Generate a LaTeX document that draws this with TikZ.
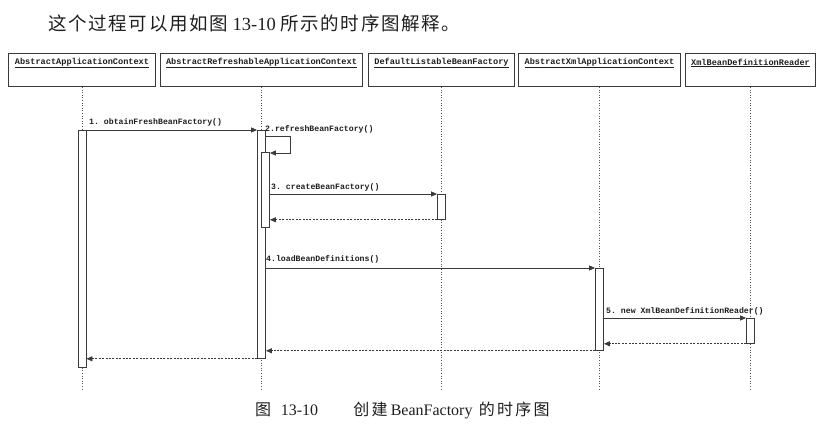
\documentclass[tikz,border=0pt]{standalone}
\usepackage{fontspec}
\setmainfont{Liberation Serif}
\setmonofont{Liberation Mono}
\newfontfamily\cjk{Noto Sans CJK SC}
\newfontfamily\cjkwide{Noto Sans CJK SC}[LetterSpace=9]
\newfontfamily\cjkcap{Noto Sans CJK SC}[LetterSpace=14]
\usetikzlibrary{arrows.meta}

\definecolor{linec}{HTML}{3A3A3A}
\definecolor{lifec}{HTML}{555555}
\definecolor{inkc}{HTML}{1E1E1E}

\tikzset{
  headbox/.style={draw=linec, line width=1pt, minimum height=33pt, inner sep=0pt, anchor=north west},
  headtext/.style={font=\ttfamily\bfseries\fontsize{8.6}{10}\selectfont, text=inkc, inner sep=0pt},
  lifeline/.style={draw=lifec, line width=0.8pt, dash pattern=on 1pt off 1.6pt},
  actbar/.style={draw=linec, line width=0.8pt, fill=white, minimum width=8pt, inner sep=0pt, anchor=north},
  msg/.style={draw=linec, line width=0.7pt, -{Triangle[length=6pt,width=5pt]}},
  reply/.style={msg, dash pattern=on 2pt off 1.4pt},
  msglabel/.style={font=\ttfamily\bfseries\fontsize{8.2}{10}\selectfont, text=inkc, inner sep=0pt, anchor=west}
}

\begin{document}
\begin{tikzpicture}[x=1pt, y=-1pt]
  \useasboundingbox (0,0) rectangle (839,435);

  % intro sentence and caption
  \node[anchor=west, inner sep=0pt, text=inkc, font=\fontsize{18.5}{20}\selectfont] (intro) at (48,23)
    {{\cjkwide 这个过程可以用如图} 13-10 {\cjkwide 所示的时序图解释。}};
  \node[anchor=west, inner sep=0pt, text=inkc, font=\fontsize{16}{18}\selectfont] (caption) at (255,410)
    {{\cjk 图}\hspace{0.6em}13-10\hspace{2.2em}{\cjkcap 创建}\hspace{0.2em}BeanFactory\hspace{0.4em}{\cjkcap 的时序图}};

  % participant boxes
  \node[headbox, minimum width=147pt] (h1) at (8,53) {};
  \node[headbox, minimum width=202pt] (h2) at (160,53) {};
  \node[headbox, minimum width=146pt] (h3) at (368,53) {};
  \node[headbox, minimum width=162pt] (h4) at (518,53) {};
  \node[headbox, minimum width=130pt] (h5) at (685,53) {};

  \node[headtext] (t1) at ([yshift=-10pt]h1.north) {\underline{AbstractApplicationContext}};
  \node[headtext] (t2) at ([yshift=-10pt]h2.north) {\underline{AbstractRefreshableApplicationContext}};
  \node[headtext] (t3) at ([yshift=-10pt]h3.north) {\underline{DefaultListableBeanFactory}};
  \node[headtext] (t4) at ([yshift=-10pt]h4.north) {\underline{AbstractXmlApplicationContext}};
  \node[headtext] (t5) at ([yshift=-10pt]h5.north) {\underline{XmlBeanDefinitionReader}};

  % lifeline ends
  \coordinate (bottom) at (0,391);
  \foreach \i in {1,...,5} {
    \draw[lifeline] (h\i.south) -- (h\i.south |- bottom);
  }

  % activation bars
  \node[actbar, minimum height=237pt] (b1) at (h1.south |- 0,130) {};
  \node[actbar, minimum height=228pt] (b2) at (h2.south |- 0,130) {};
  \node[actbar, minimum height=75pt]  (b2i) at ([xshift=4pt]h2.south |- 0,152) {};
  \node[actbar, minimum height=25pt]  (b3) at (h3.south |- 0,194) {};
  \node[actbar, minimum height=82pt]  (b4) at (h4.south |- 0,268) {};
  \node[actbar, minimum height=25pt]  (b5) at (h5.south |- 0,318) {};

  % 1. obtainFreshBeanFactory()
  \draw[msg] (b1.north east) -- (b2.north west);
  \node[msglabel] (l1) at (89,122) {1. obtainFreshBeanFactory()};

  % 2. refreshBeanFactory() : self call
  \coordinate (loopTop) at (0,136);
  \coordinate (loopBot) at (0,153);
  \coordinate (loopX) at (290,0);
  \draw[msg] (b2.east |- loopTop) -- (loopX |- loopTop) -- (loopX |- loopBot) -- (b2i.east |- loopBot);
  \node[msglabel] (l2) at (265,129) {2.refreshBeanFactory()};

  % 3. createBeanFactory()
  \draw[msg] (b2i.east |- b3.north) -- (b3.north west);
  \draw[reply] (b3.south west) -- (b2i.east |- b3.south);
  \node[msglabel] (l3) at (271,187) {3. createBeanFactory()};

  % 4. loadBeanDefinitions()
  \draw[msg] (b2.east |- b4.north) -- (b4.north west);
  \node[msglabel] (l4) at (266,259) {4.loadBeanDefinitions()};

  % 5. new XmlBeanDefinitionReader()
  \draw[msg] (b4.east |- b5.north) -- (b5.north west);
  \draw[reply] (b5.south west) -- (b4.east |- b5.south);
  \node[msglabel] (l5) at (606,311) {5. new XmlBeanDefinitionReader()};

  % returns
  \draw[reply] (b4.south west) -- (b2.east |- b4.south);
  \draw[reply] (b2.south west) -- (b1.east |- b2.south);
\end{tikzpicture}
\end{document}
